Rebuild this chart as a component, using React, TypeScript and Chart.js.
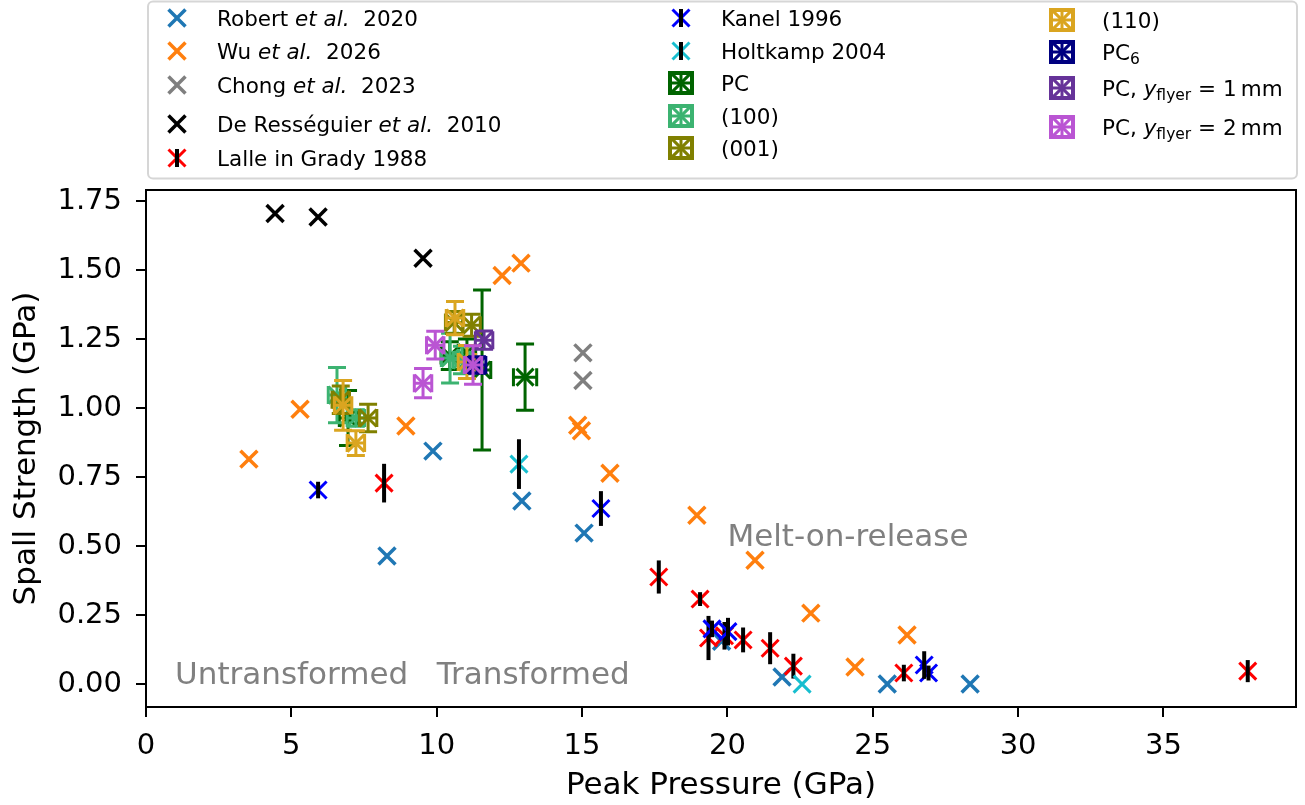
import React, { useEffect, useRef } from 'react';
import { Chart, registerables } from 'chart.js';

Chart.register(...registerables);

const FONT = "'DejaVu Sans', sans-serif";

// Axis ticks and ranges
const xTicks = [0, 5, 10, 15, 20, 25, 30, 35];
const yTicks = [0, 0.25, 0.5, 0.75, 1.0, 1.25, 1.5, 1.75];
const xRange = [0, 39.56];
const yRange = [-0.083, 1.79];

// Robert et al. 2020
const robertX = [8.29, 9.87, 12.93, 15.07, 19.8, 21.88, 25.5, 28.35];
const robertY = [0.464, 0.844, 0.663, 0.547, 0.155, 0.026, 0.0, 0.0];
// Wu et al. 2026
const wuX = [3.54, 5.3, 8.94, 12.25, 12.9, 14.85, 14.98, 15.96, 18.95, 20.95, 22.87, 24.39, 26.18];
const wuY = [0.815, 0.996, 0.935, 1.48, 1.525, 0.938, 0.918, 0.764, 0.612, 0.449, 0.257, 0.062, 0.178];
// Chong et al. 2023
const chongX = [15.03, 15.03];
const chongY = [1.2, 1.1];
// De Rességuier et al. 2010
const deresX = [4.44, 5.92, 9.53];
const deresY = [1.705, 1.692, 1.543];
// Lalle in Grady 1988
const lalleX = [8.19, 17.64, 19.06, 19.35, 19.9, 20.54, 21.47, 22.27, 26.07, 37.9];
const lalleY = [0.728, 0.388, 0.308, 0.167, 0.175, 0.16, 0.13, 0.065, 0.04, 0.047];
const lalleErr = [0.07, 0.06, 0.025, 0.08, 0.05, 0.045, 0.058, 0.045, 0.03, 0.04];
// Kanel 1996
const kanelX = [5.92, 15.65, 19.47, 20.02, 26.77, 26.92];
const kanelY = [0.703, 0.636, 0.2, 0.19, 0.069, 0.04];
const kanelErr = [0.03, 0.063, 0.03, 0.05, 0.05, 0.027];
// Holtkamp 2004
const holtX = [12.83, 22.57];
const holtY = [0.797, 0.0];
const holtErr = [0.09, 0];
// PC
const pcX = [6.95, 10.45, 11.04, 11.56, 13.04];
const pcY = [0.964, 1.19, 1.2, 1.138, 1.112];
const pcXErr = [0.3, 0.3, 0.3, 0.3, 0.4];
const pcYErr = [0.1, 0.05, 0.05, 0.29, 0.12];
// (100)
const p100X = [6.57, 7.22, 10.46, 10.87];
const p100Y = [1.047, 0.964, 1.181, 1.174];
const p100XErr = [0.3, 0.3, 0.3, 0.3];
const p100YErr = [0.1, 0.03, 0.09, 0.05];
// (001)
const p001X = [6.7, 7.64, 10.6, 11.2];
const p001Y = [1.03, 0.964, 1.31, 1.3];
const p001XErr = [0.3, 0.3, 0.3, 0.3];
const p001YErr = [0.05, 0.05, 0.04, 0.04];
// (110)
const p110X = [6.78, 7.22, 10.63, 11.04];
const p110Y = [1.01, 0.873, 1.326, 1.167];
const p110XErr = [0.3, 0.3, 0.3, 0.3];
const p110YErr = [0.09, 0.045, 0.06, 0.06];
// PC6
const pc6X = [11.39];
const pc6Y = [1.156];
const pc6XErr = [0.3];
const pc6YErr = [0.03];
// PC, y_flyer = 1 mm
const fly1X = [11.63];
const fly1Y = [1.246];
const fly1XErr = [0.3];
const fly1YErr = [0.033];
// PC, y_flyer = 2 mm
const fly2X = [9.53, 9.95, 11.25];
const fly2Y = [1.09, 1.228, 1.156];
const fly2XErr = [0.3, 0.3, 0.3];
const fly2YErr = [0.053, 0.05, 0.07];

// Annotations
const annotText = ['Untransformed', 'Transformed', 'Melt-on-release'];
const annotX = [1, 10, 20];
const annotY = [0, 0, 0.5];

// Rich legend labels
type Seg = { t: string; it?: boolean; sub?: boolean };
const richLabels: Seg[][] = [
  [{ t: 'Robert ' }, { t: 'et al.', it: true }, { t: '  2020' }],
  [{ t: 'Wu ' }, { t: 'et al.', it: true }, { t: '  2026' }],
  [{ t: 'Chong ' }, { t: 'et al.', it: true }, { t: '  2023' }],
  [{ t: 'De Rességuier ' }, { t: 'et al.', it: true }, { t: '  2010' }],
  [{ t: 'Lalle in Grady 1988' }],
  [{ t: 'Kanel 1996' }],
  [{ t: 'Holtkamp 2004' }],
  [{ t: 'PC' }],
  [{ t: '(100)' }],
  [{ t: '(001)' }],
  [{ t: '(110)' }],
  [{ t: 'PC' }, { t: '6', sub: true }],
  [{ t: 'PC, ' }, { t: 'y', it: true }, { t: 'flyer', sub: true }, { t: ' = 1\u2009mm' }],
  [{ t: 'PC, ' }, { t: 'y', it: true }, { t: 'flyer', sub: true }, { t: ' = 2\u2009mm' }],
];

const pts = (xa: number[], ya: number[]) => xa.map((x, i) => ({ x, y: ya[i] }));

function xSet(label: string, xa: number[], ya: number[], color: string, lw: number) {
  return {
    label, data: pts(xa, ya), kind: 'x',
    pointStyle: 'crossRot', pointRadius: 12, pointHoverRadius: 12,
    borderColor: color, backgroundColor: color, pointBorderWidth: lw, pointHoverBorderWidth: lw,
  };
}
function xBarSet(label: string, xa: number[], ya: number[], err: number[], color: string) {
  return {
    ...xSet(label, xa, ya, color, 3), kind: 'xbar',
    yErr: err, errColor: '#000000', errWidth: 4, cap: 0,
  };
}
function boxSet(label: string, xa: number[], ya: number[], xe: number[], ye: number[], color: string) {
  return {
    ...xSet(label, xa, ya, color, 3), kind: 'box',
    xErr: xe, yErr: ye, errColor: color, errWidth: 3, cap: 9,
  };
}

const errorBarPlugin = {
  id: 'errorBars',
  afterDatasetDraw(chart: any, args: any) {
    const ds = chart.data.datasets[args.index];
    if (!ds.yErr && !ds.xErr) return;
    const { ctx, scales } = chart;
    const xs = scales.x, ys = scales.y;
    ctx.save();
    ctx.strokeStyle = ds.errColor;
    ctx.lineWidth = ds.errWidth;
    ctx.lineCap = 'butt';
    ds.data.forEach((p: any, i: number) => {
      const px = xs.getPixelForValue(p.x);
      const py = ys.getPixelForValue(p.y);
      const ye = ds.yErr ? ds.yErr[i] : 0;
      const xe = ds.xErr ? ds.xErr[i] : 0;
      ctx.beginPath();
      if (ye) {
        const y0 = ys.getPixelForValue(p.y - ye);
        const y1 = ys.getPixelForValue(p.y + ye);
        ctx.moveTo(px, y0); ctx.lineTo(px, y1);
        if (ds.cap) {
          ctx.moveTo(px - ds.cap, y0); ctx.lineTo(px + ds.cap, y0);
          ctx.moveTo(px - ds.cap, y1); ctx.lineTo(px + ds.cap, y1);
        }
      }
      if (xe) {
        const x0 = xs.getPixelForValue(p.x - xe);
        const x1 = xs.getPixelForValue(p.x + xe);
        ctx.moveTo(x0, py); ctx.lineTo(x1, py);
        if (ds.cap) {
          ctx.moveTo(x0, py - ds.cap); ctx.lineTo(x0, py + ds.cap);
          ctx.moveTo(x1, py - ds.cap); ctx.lineTo(x1, py + ds.cap);
        }
      }
      ctx.stroke();
    });
    ctx.restore();
  },
};

const annotFramePlugin = {
  id: 'annotFrame',
  afterDatasetsDraw(chart: any) {
    const { ctx, scales, chartArea } = chart;
    ctx.save();
    ctx.fillStyle = '#808080';
    ctx.font = `31px ${FONT}`;
    ctx.textAlign = 'left';
    ctx.textBaseline = 'alphabetic';
    annotText.forEach((t, i) => {
      ctx.fillText(t, scales.x.getPixelForValue(annotX[i]), scales.y.getPixelForValue(annotY[i]));
    });
    ctx.strokeStyle = '#000';
    ctx.lineWidth = 2;
    ctx.strokeRect(chartArea.left, chartArea.top, chartArea.right - chartArea.left, chartArea.bottom - chartArea.top);
    ctx.restore();
  },
};

function drawCross(ctx: CanvasRenderingContext2D, x: number, y: number, r: number, color: string, lw: number) {
  const o = r * Math.SQRT1_2;
  ctx.strokeStyle = color;
  ctx.lineWidth = lw;
  ctx.beginPath();
  ctx.moveTo(x - o, y - o); ctx.lineTo(x + o, y + o);
  ctx.moveTo(x - o, y + o); ctx.lineTo(x + o, y - o);
  ctx.stroke();
}

const legendPlugin = {
  id: 'richLegend',
  afterDraw(chart: any) {
    const { ctx } = chart;
    const dsets = chart.data.datasets;
    ctx.save();
    ctx.fillStyle = '#ffffff';
    ctx.strokeStyle = '#d6d6d6';
    ctx.lineWidth = 2;
    ctx.beginPath();
    (ctx as any).roundRect(148, 1.5, 1149, 177, 5);
    ctx.fill();
    ctx.stroke();
    const cols = [
      { mx: 177, tx: 217, rows: [18, 51, 85, 124, 158], items: [0, 1, 2, 3, 4] },
      { mx: 681, tx: 721, rows: [18, 51, 83, 116, 148], items: [5, 6, 7, 8, 9] },
      { mx: 1062, tx: 1102, rows: [20, 52, 88, 127], items: [10, 11, 12, 13] },
    ];
    cols.forEach((c) => {
      c.items.forEach((di, k) => {
        const ds = dsets[di];
        const y = c.rows[k];
        const color = ds.borderColor;
        if (ds.kind === 'box') {
          ctx.strokeStyle = color;
          ctx.lineWidth = 4;
          ctx.strokeRect(c.mx - 11, y - 10, 22, 20);
          ctx.lineWidth = 3;
          ctx.beginPath();
          ctx.moveTo(c.mx - 11, y); ctx.lineTo(c.mx + 11, y);
          ctx.moveTo(c.mx, y - 10); ctx.lineTo(c.mx, y + 10);
          ctx.stroke();
          drawCross(ctx, c.mx, y, 14, color, 3);
        } else {
          drawCross(ctx, c.mx, y, 12, color, ds.pointBorderWidth);
          if (ds.kind === 'xbar') {
            ctx.strokeStyle = '#000';
            ctx.lineWidth = 4;
            ctx.beginPath();
            ctx.moveTo(c.mx, y - 9); ctx.lineTo(c.mx, y + 9);
            ctx.stroke();
          }
        }
        let cx = c.tx;
        const base = y + 7.8;
        ctx.fillStyle = '#000';
        ctx.textAlign = 'left';
        ctx.textBaseline = 'alphabetic';
        richLabels[di].forEach((s) => {
          const size = s.sub ? 15.5 : 21.5;
          ctx.font = `${s.it ? 'italic ' : ''}${size}px ${FONT}`;
          ctx.fillText(s.t, cx, base + (s.sub ? 4.5 : 0));
          cx += ctx.measureText(s.t).width;
        });
      });
    });
    ctx.restore();
  },
};

export default function App() {
  const ref = useRef<HTMLCanvasElement>(null);
  useEffect(() => {
    document.body.style.margin = '0';
    const datasets: any[] = [
      xSet('Robert et al. 2020', robertX, robertY, '#1f77b4', 3.5),
      xSet('Wu et al. 2026', wuX, wuY, '#ff7f0e', 3.5),
      xSet('Chong et al. 2023', chongX, chongY, '#7f7f7f', 3.5),
      xSet('De Rességuier et al. 2010', deresX, deresY, '#000000', 3.5),
      xBarSet('Lalle in Grady 1988', lalleX, lalleY, lalleErr, '#ff0000'),
      xBarSet('Kanel 1996', kanelX, kanelY, kanelErr, '#0000ff'),
      xBarSet('Holtkamp 2004', holtX, holtY, holtErr, '#17becf'),
      boxSet('PC', pcX, pcY, pcXErr, pcYErr, '#006400'),
      boxSet('(100)', p100X, p100Y, p100XErr, p100YErr, '#3cb371'),
      boxSet('(001)', p001X, p001Y, p001XErr, p001YErr, '#808000'),
      boxSet('(110)', p110X, p110Y, p110XErr, p110YErr, '#daa520'),
      boxSet('PC6', pc6X, pc6Y, pc6XErr, pc6YErr, '#000080'),
      boxSet('PC, y_flyer = 1 mm', fly1X, fly1Y, fly1XErr, fly1YErr, '#663399'),
      boxSet('PC, y_flyer = 2 mm', fly2X, fly2Y, fly2XErr, fly2YErr, '#ba55d3'),
    ];
    datasets.forEach((d, i) => { d.order = datasets.length - i; });

    const tickFont = { family: FONT, size: 29 };
    const titleFont = { family: FONT, size: 31, lineHeight: 1.2 };
    const chart = new Chart(ref.current as HTMLCanvasElement, {
      type: 'scatter',
      data: { datasets },
      options: {
        responsive: false,
        animation: false,
        events: [],
        layout: { autoPadding: false, padding: { left: 0, right: 9, top: 190, bottom: 0 } },
        plugins: { legend: { display: false }, tooltip: { enabled: false } },
        scales: {
          x: {
            type: 'linear',
            min: xRange[0],
            max: xRange[1],
            afterBuildTicks: (s: any) => { s.ticks = xTicks.map((v) => ({ value: v })); },
            afterFit: (s: any) => { s.height = 98; s.paddingLeft = 0; s.paddingRight = 0; },
            grid: { display: true, drawOnChartArea: false, drawTicks: true, tickLength: 10, color: '#000', lineWidth: 2 },
            border: { display: false },
            ticks: { color: '#000', font: tickFont, padding: 12, maxRotation: 0, autoSkip: false, callback: (v: any) => String(v) },
            title: { display: true, text: 'Peak Pressure (GPa)', color: '#000', font: titleFont, padding: { top: 0, bottom: 0 } },
          },
          y: {
            type: 'linear',
            min: yRange[0],
            max: yRange[1],
            afterBuildTicks: (s: any) => { s.ticks = yTicks.map((v) => ({ value: v })); },
            afterFit: (s: any) => { s.width = 146; s.paddingTop = 0; s.paddingBottom = 0; },
            grid: { display: true, drawOnChartArea: false, drawTicks: true, tickLength: 10, color: '#000', lineWidth: 2 },
            border: { display: false },
            ticks: { color: '#000', font: tickFont, padding: 14, autoSkip: false, callback: (v: any) => Number(v).toFixed(2) },
            title: { display: true, text: 'Spall Strength (GPa)', color: '#000', font: titleFont, padding: { top: 8.5, bottom: 0 } },
          },
        },
      } as any,
      plugins: [errorBarPlugin, annotFramePlugin, legendPlugin],
    });
    return () => chart.destroy();
  }, []);
  return (
    <div style={{ width: 1305, height: 805 }}>
      <canvas ref={ref} width={1305} height={805} style={{ display: 'block' }} />
    </div>
  );
}
